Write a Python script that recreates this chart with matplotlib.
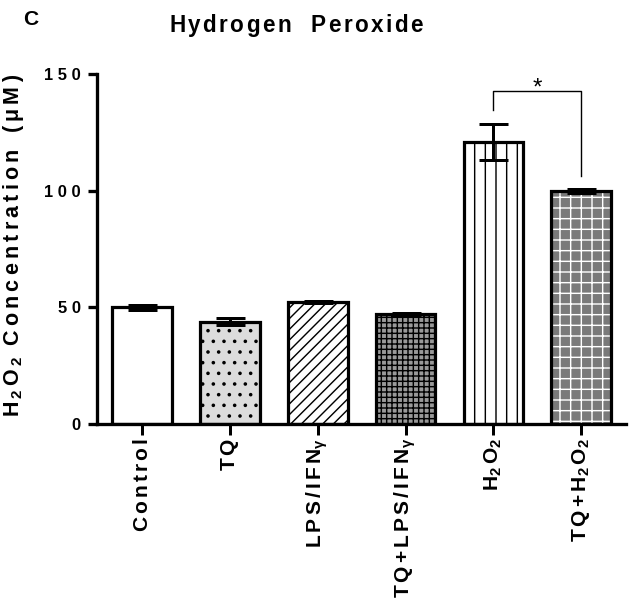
import matplotlib
matplotlib.use("Agg")
import matplotlib.pyplot as plt
import numpy as np

DPI = 64
def px(v):
    return v * 72.0 / DPI

plt.rcParams['font.family'] = ['Liberation Sans', 'DejaVu Sans']
plt.rcParams['font.weight'] = 'bold'
plt.rcParams['mathtext.fontset'] = 'custom'
plt.rcParams['mathtext.rm'] = 'Liberation Sans:bold'
plt.rcParams['mathtext.it'] = 'Liberation Sans:bold'
plt.rcParams['mathtext.bf'] = 'Liberation Sans:bold'
plt.rcParams['mathtext.sf'] = 'Liberation Sans'
plt.rcParams['mathtext.default'] = 'rm'
plt.rcParams['hatch.linewidth'] = 1.6

# ---- data ----
categories = ["Control", "TQ", "LPS/IFNγ", "TQ+LPS/IFNγ", "H2O2", "TQ+H2O2"]
tick_labels = [
    r"$C\,o\,n\,t\,r\,o\,l$",
    r"$T\,Q$",
    r"$L\,P\,S\,/\,I\,F\,N_{\mathsf{\gamma}}$",
    r"$T\,Q\,{+}\,L\,P\,S\,/\,I\,F\,N_{\mathsf{\gamma}}$",
    r"$H_{\mathsf{2}}\,O_{\mathsf{2}}$",
    r"$T\,Q\,{+}\,H_{\mathsf{2}}\,O_{\mathsf{2}}$",
]
means = [50.0, 43.9, 52.3, 47.1, 120.8, 99.9]
errors = [1.2, 1.5, 0.5, 0.6, 7.7, 0.8]
yticks = [0, 50, 100, 150]
ytick_labels = ["0", "5 0", "1 0 0", "1 5 0"]
sig_pair = (4, 5)
sig_levels = (134.6, 142.7, 106.3)  # left end, top, right end
sig_text = "*"

# ---- styles ----
faces = ['white', '#dcdcdc', 'white', '#999999', 'white', '#7a7a7a']
hatches = [None, '.', '//', '++', '|', '+']
hatch_cols = ['black', 'black', 'black', 'black', 'black', 'white']

fig = plt.figure(figsize=(634 / DPI, 610 / DPI), dpi=DPI)
ax = fig.add_axes([97 / 634, 186 / 610, 529 / 634, 350 / 610])

x = np.arange(len(categories))
width = 0.68
for i in range(len(categories)):
    ax.bar(x[i], means[i], width=width, color=faces[i], edgecolor=hatch_cols[i],
           hatch=hatches[i], linewidth=0, zorder=2)
ax.bar(x, means, width=width, color='none', edgecolor='black',
       linewidth=px(3.2), zorder=3)
ax.errorbar(x, means, yerr=errors, fmt='none', ecolor='black',
            elinewidth=px(3), capsize=px(14.5), capthick=px(3), zorder=4)

# significance bracket
xa, xb = x[sig_pair[0]], x[sig_pair[1]]
ax.plot([xa, xa, xb, xb], [sig_levels[0], sig_levels[1], sig_levels[1], sig_levels[2]],
        color='black', linewidth=px(1.4), clip_on=False, zorder=5)
ax.text((xa + xb) / 2, 141.0, sig_text, ha='center', va='baseline',
        fontsize=px(24), fontweight='normal', clip_on=False)

ax.set_xlim(-0.513, 5.51)
ax.set_ylim(0, 150)
ax.set_yticks(yticks)
ax.set_yticklabels(ytick_labels)
ax.set_xticks(x)
ax.set_xticklabels(tick_labels, rotation=90, va='top', ha='center')

for s in ['top', 'right']:
    ax.spines[s].set_visible(False)
for s in ['left', 'bottom']:
    ax.spines[s].set_linewidth(px(3.3))
ax.tick_params(axis='y', direction='out', length=px(9.5), width=px(3.3),
               labelsize=px(16.5), pad=px(7))
ax.tick_params(axis='x', direction='out', length=px(11), width=px(3),
               labelsize=px(21), pad=px(3))

ax.set_ylabel(r"$H_{\:2}\:O_{\:2}\;\;C\:o\:n\:c\:e\:n\:t\:r\:a\:t\:i\:o\:n\;\;\;(\:\mu\:M\:)$",
              fontsize=px(21.5))
ax.yaxis.set_label_coords(-0.134, 0.51)

fig.text(296.5 / 634, 1 - 32 / 610,
         r"$H\hspace{0.12}y\hspace{0.12}d\hspace{0.12}r\hspace{0.12}o\hspace{0.12}g\hspace{0.12}e\hspace{0.12}n\quad P\hspace{0.12}e\hspace{0.12}r\hspace{0.12}o\hspace{0.12}x\hspace{0.12}i\hspace{0.12}d\hspace{0.12}e$",
         ha='center', va='baseline', fontsize=px(22.5))
fig.text(23 / 634, 1 - 25 / 610, "C", ha='left', va='baseline',
         fontsize=px(21), fontweight='bold')

fig.savefig("out.png", dpi=DPI)
